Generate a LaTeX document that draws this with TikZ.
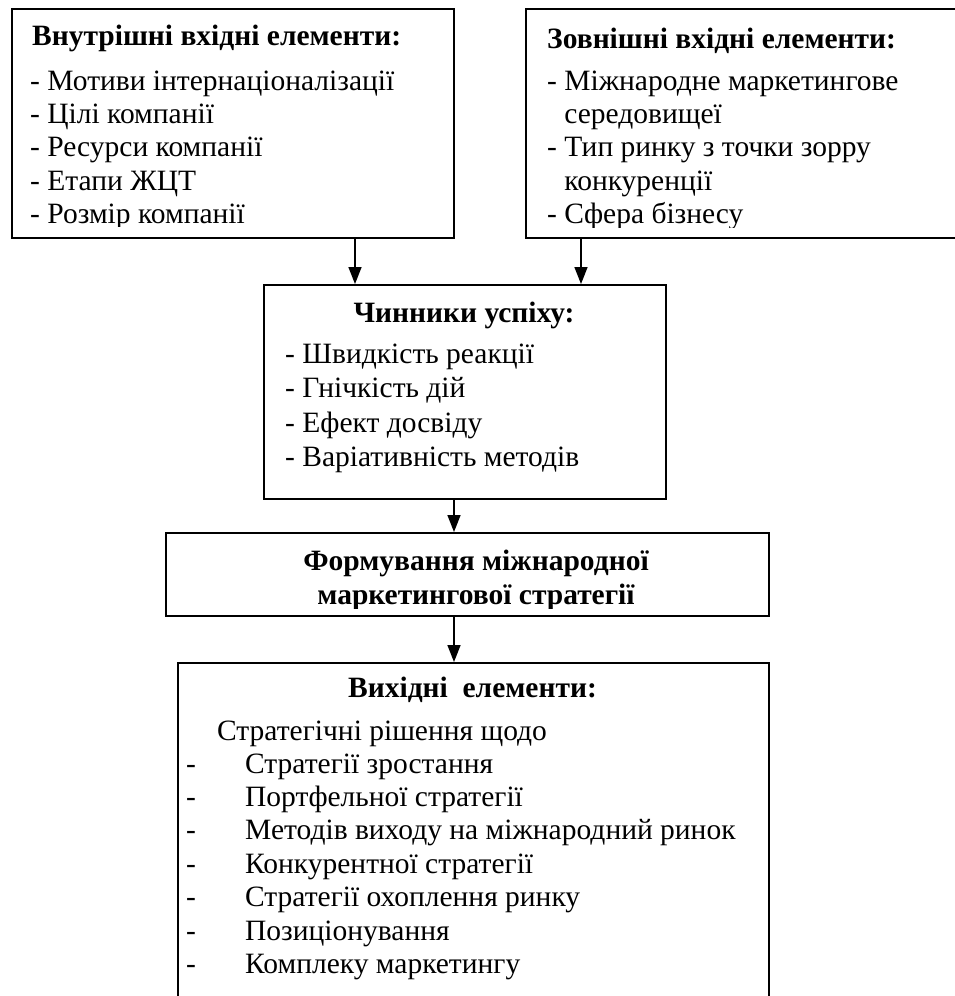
\documentclass[tikz,border=0pt]{standalone}
\usepackage{fontspec}
\setmainfont{Liberation Serif}
\usetikzlibrary{arrows.meta}
\newcommand\bodyfont{\fontsize{29.5}{33.4}\selectfont}
\newcommand\ttlfont{\bfseries\fontsize{29.5}{33.4}\selectfont}
\newcommand\mylines[1]{\vtop{\bodyfont\baselineskip=33.4pt #1}}
\tikzset{
  x=1pt, y=1pt,
  box/.style={draw, line width=1.6pt, inner sep=0pt, anchor=north west},
  ttl/.style={font=\ttlfont, inner sep=0pt},
  body/.style={font=\bodyfont, inner sep=0pt, anchor=base west},
  arr/.style={-{Triangle[length=17pt,width=13pt]}, line width=1.6pt}
}
\begin{document}
\begin{tikzpicture}
\useasboundingbox (0,0) rectangle (955,-996);
% boxes
\node[box, minimum width=442pt, minimum height=229pt] (inner) at (11,-8) {};
\node[box, minimum width=460pt, minimum height=229pt] (outer) at (525,-8) {};
\node[box, minimum width=402pt, minimum height=214pt] (chin) at (263,-284) {};
\node[box, minimum width=603pt, minimum height=83pt] (form) at (165,-532) {};
\node[box, minimum width=591pt, minimum height=360pt] (out) at (177,-662) {};
% box 1 text
\begin{scope}
\clip (11,-8) rectangle (453,-226);
\node[ttl, anchor=base west] (t1) at (32,-45) {Внутрішні вхідні елементи:};
\node[body] (b1) at (30,-90) {\mylines{%
  \hbox{- Мотиви інтернаціоналізації}
  \hbox{- Цілі компанії}
  \hbox{- Ресурси компанії}
  \hbox{- Етапи ЖЦТ}
  \hbox{- Розмір компанії}}};
\end{scope}
% box 2 text
\begin{scope}
\clip (525,-8) rectangle (985,-227);
\node[ttl, anchor=base west] (t2) at (547,-48) {Зовнішні вхідні елементи:};
\node[body] (b2) at (547,-90) {\mylines{%
  \hbox{- Міжнародне маркетингове}
  \hbox{\phantom{- }середовищеї}
  \hbox{- Тип ринку з точки зорру}
  \hbox{\phantom{- }конкуренції}
  \hbox{- Сфера бізнесу}}};
\end{scope}
% box 3 text
\node[ttl, anchor=base] (t3) at (464,-322) {Чинники успіху:};
\node[body] (b3) at (285,-363) {\vtop{\bodyfont\baselineskip=34.5pt
  \hbox{- Швидкість реакції}
  \hbox{- Гнічкість дій}
  \hbox{- Ефект досвіду}
  \hbox{- Варіативність методів}}};
% box 4 text
\begin{scope}
\clip (165,-532) rectangle (768,-608);
\node[ttl, anchor=base] (t4a) at (476,-570) {Формування міжнародної};
\node[ttl, anchor=base] (t4b) at (476,-604) {маркетингової стратегії};
\end{scope}
% box 5 text
\node[ttl, anchor=base] (t5) at (472.5,-697) {Вихідні\ \ елементи:};
\node[body] (b5a) at (217,-740) {Стратегічні рішення щодо};
\node[body] (b5) at (186,-773) {\mylines{%
  \hbox{\makebox[59pt][l]{-}Стратегії зростання}
  \hbox{\makebox[59pt][l]{-}Портфельної стратегії}
  \hbox{\makebox[59pt][l]{-}Методів виходу на міжнародний ринок}
  \hbox{\makebox[59pt][l]{-}Конкурентної стратегії}
  \hbox{\makebox[59pt][l]{-}Стратегії охоплення ринку}
  \hbox{\makebox[59pt][l]{-}Позиціонування}
  \hbox{\makebox[59pt][l]{-}Комплеку маркетингу}}};
% arrows
\coordinate (a1) at (355,0);
\coordinate (a2) at (581,0);
\coordinate (a3) at (454,0);
\draw[arr] (a1 |- inner.south) -- (a1 |- chin.north);
\draw[arr] (a2 |- outer.south) -- (a2 |- chin.north);
\draw[arr] (a3 |- chin.south) -- (a3 |- form.north);
\draw[arr] (a3 |- form.south) -- (a3 |- out.north);
\end{tikzpicture}
\end{document}
